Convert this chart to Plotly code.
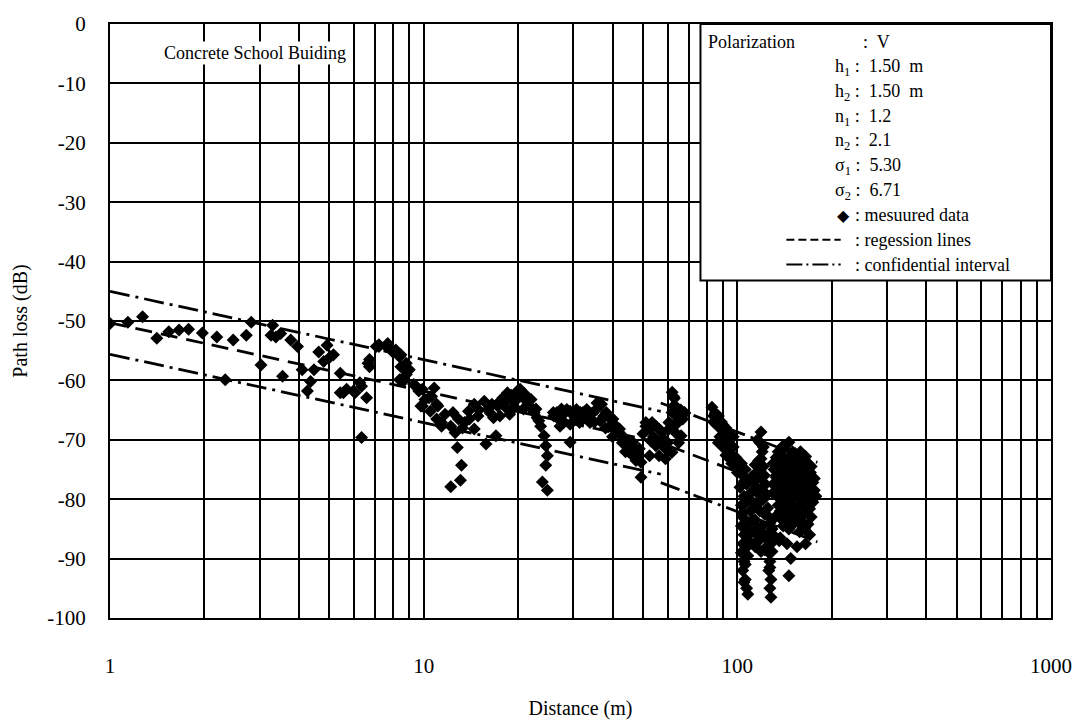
import plotly.graph_objects as go

# ---------------- data ----------------
distance_m = [
    1.0, 1.14, 1.27, 1.41, 1.54, 1.66, 1.78, 1.97, 2.19, 2.33, 2.47, 2.72, 2.82, 3.03, 3.26, 3.3,
    3.38, 3.5, 3.55, 3.77, 3.96, 4.1, 4.26, 4.36, 4.47, 4.63, 4.8, 4.92, 5.04, 5.16, 5.42, 5.42,
    5.55, 5.68, 5.97, 6.04, 6.26, 6.34, 6.34, 6.58, 6.65, 6.72, 6.72, 7.06, 7.2, 7.2, 7.6, 7.68,
    7.78, 7.97, 8.15, 8.38, 8.38, 8.46, 8.46, 8.6, 8.6, 8.8, 8.8, 9.0, 9.3, 9.46, 9.65, 9.8, 9.9, 9.9,
    10.1, 10.4, 10.5, 10.6, 10.8, 11.0, 11.0, 11.1, 11.4, 11.4, 11.7, 12.2, 12.2, 12.4, 12.6, 12.8,
    13.1, 13.2, 13.5, 13.9, 14.5, 14.5, 14.9, 15.6, 15.8, 16.0, 16.7, 17.0, 17.2, 17.9, 18.3, 18.5,
    18.8, 19.2, 19.9, 20.6, 21.3, 21.9, 22.5, 23.0, 23.6, 23.9, 24.2, 24.5, 24.5, 24.8, 24.8,
    19.0, 20.0, 20.3, 21.0, 18.0, 19.5, 20.8, 22.0, 17.5, 16.3,
    14.0, 15.0, 16.5, 17.5, 18.8, 21.5, 22.8, 23.3, 12.9, 13.3,
    25.9, 26.6, 26.9, 27.2, 27.9, 28.6, 29.3, 29.3, 29.3, 30.1, 30.7, 31.4, 31.6, 32.2, 33.1, 33.9,
    33.9, 35.5, 35.7, 36.5, 36.9, 38.2, 39.3, 40.1, 41.1, 42.1, 42.1, 43.2, 44.1, 45.2, 45.2, 46.4,
    46.4, 47.5, 48.7, 48.7, 49.3, 49.3, 51.1, 51.1, 52.5, 52.5, 53.5, 55.0, 55.0, 56.3, 56.3, 57.6,
    57.6, 59.0, 59.0, 60.5, 60.5, 61.9, 61.9, 62.6, 62.6, 64.8, 64.8, 66.2, 66.2, 67.8,
    38.0, 40.0, 44.0,
    26.0, 27.5, 28.0, 30.0, 31.0, 32.8, 34.5, 35.0, 37.5, 39.0, 41.0, 43.0, 45.0, 47.0, 50.0, 54.0,
    58.0, 60.0, 53.0,
    63.0, 64.0, 65.0, 63.5, 66.0, 67.0, 64.0, 65.0, 62.0, 68.0,
    83, 85, 87, 89, 86, 90, 92, 88, 93, 95, 91, 96, 98, 94, 99, 84, 87, 97, 100,
    84, 86, 88, 90, 91, 93, 89, 94, 97, 92, 96, 99,
    103, 104, 102, 105, 103, 104, 103, 105, 104, 103, 105, 104, 106, 107, 108, 109, 110, 108, 107,
    106, 109, 108,
    105, 106, 104, 106, 105, 106, 105,
    119, 118, 120, 117, 121, 115, 119, 123, 113, 116, 121, 112, 118, 125, 114, 120, 127, 111, 123,
    117, 128, 126, 127, 126, 128, 127, 128, 130, 132, 122, 115, 130, 133,
    116, 121, 119, 114, 118, 122, 111, 115, 120, 124, 110, 113, 117, 122, 126, 112, 116, 121, 125,
    110, 114, 119, 124, 129, 127, 129,
    140, 146, 150,
    133, 138, 143, 150, 156, 162, 168,
    131, 136, 141, 147, 153, 159, 165, 171, 176,
    130, 135, 140, 146, 152, 158, 164, 170, 176,
    134, 139, 144, 150, 156, 162, 168, 174,
    137, 143, 148, 155, 160, 166, 172,
    140, 146, 152, 158, 164, 170,
    136, 144, 155, 165,
    148, 146, 137, 128,
    135, 141, 147, 153, 159, 165,
    130, 136, 142, 148, 154, 160, 166, 172,
    133, 138, 144, 150, 156, 162, 168, 174,
    131, 137, 142, 148, 154, 160, 166, 172, 178,
    135, 141, 146, 152, 158, 164, 170,
    139, 145, 150, 156, 162, 168,
]
path_loss_db = [
    -50.4, -50.2, -49.3, -52.9, -51.8, -51.5, -51.4, -52.0, -52.7, -59.9, -53.2, -52.4, -50.2, -57.4, -52.4, -50.7,
    -52.7, -52.1, -59.3, -53.2, -54.3, -58.2, -61.8, -60.2, -58.2, -55.2, -56.8, -54.1, -56.0, -55.7, -62.1, -58.8,
    -62.1, -61.5, -61.8, -62.1, -60.4, -61.0, -69.6, -62.9, -57.1, -57.7, -56.5, -54.3, -54.3, -54.0, -54.3, -53.8,
    -54.3, -55.2, -54.9, -56.0, -59.9, -55.7, -57.7, -57.7, -60.2, -59.0, -57.1, -58.2, -60.7, -61.0, -61.8, -64.3, -64.3, -61.5,
    -63.2, -62.9, -65.2, -62.7, -61.3, -64.0, -66.5, -64.3, -67.7, -67.1, -65.7, -67.7, -77.9, -65.4, -68.8, -71.3,
    -76.8, -74.3, -67.1, -65.2, -64.0, -68.2, -66.0, -63.5, -70.7, -64.9, -66.3, -69.3, -64.3, -62.9, -64.6, -62.1,
    -65.7, -63.5, -61.8, -62.6, -63.5, -64.6, -65.4, -66.3, -67.7, -77.1, -69.3, -71.0, -74.3, -72.7, -78.5,
    -62.5, -63.0, -61.5, -62.3, -63.8, -64.5, -64.8, -63.2, -66.0, -65.5,
    -66.5, -65.0, -64.0, -63.5, -62.8, -64.0, -64.8, -66.8, -66.5, -68.0,
    -65.4, -65.4, -66.5, -67.7, -65.7, -64.9, -65.2, -67.4, -70.4, -66.0, -64.9, -67.1, -65.4, -65.4, -64.9, -65.7,
    -67.1, -64.9, -63.8, -66.8, -64.0, -65.4, -67.7, -66.5, -67.7, -68.8, -68.2, -69.9, -69.9, -71.5, -70.7, -70.4,
    -72.7, -73.5, -71.5, -72.7, -73.8, -76.3, -67.1, -67.7, -68.2, -72.7, -67.1, -67.7, -71.0, -68.2, -72.7, -68.8,
    -70.4, -71.5, -73.2, -67.1, -68.2, -72.1, -65.4, -62.7, -64.3, -65.4, -66.5, -66.5, -69.3, -65.4,
    -68.0, -69.5, -72.0,
    -66.0, -64.8, -67.0, -65.8, -66.2, -66.3, -65.5, -67.0, -66.0, -66.3, -68.5, -70.5, -72.0, -71.5, -69.0, -69.5,
    -69.8, -70.5, -70.2,
    -63.0, -64.5, -66.0, -67.5, -65.0, -66.5, -69.0, -70.5, -62.0, -65.5,
    -64.5, -65.5, -66.0, -67.0, -67.5, -68.5, -68.0, -69.5, -70.0, -71.0, -71.5, -72.5, -73.5, -73.0, -74.5, -67.0, -70.5, -69.5, -75.5,
    -66.0, -66.8, -68.0, -67.5, -69.8, -68.8, -70.6, -71.8, -71.2, -72.6, -74.0, -73.0,
    -74.0, -76.0, -78.0, -79.5, -81.0, -83.0, -84.5, -86.0, -87.5, -89.0, -90.5, -92.0, -93.5, -95.0, -96.0, -84.0, -82.0, -80.0, -77.5,
    -75.0, -87.0, -89.5,
    -77.0, -80.7, -82.3, -85.0, -88.5, -91.0, -94.0,
    -68.7, -70.5, -72.0, -73.5, -74.5, -75.5, -76.5, -77.5, -77.0, -79.0, -80.0, -80.5, -82.0, -81.5, -83.5, -84.5, -84.0, -85.5, -86.5,
    -87.0, -87.5, -89.0, -90.5, -92.0, -93.5, -95.0, -96.5, -86.0, -83.0, -88.5, -86.0, -79.0, -76.0,
    -70.0, -71.2, -73.2, -74.2, -75.2, -76.0, -76.2, -78.0, -78.5, -79.2, -79.0, -81.5, -80.7, -82.5, -83.0, -83.5, -84.8, -85.8, -86.0,
    -87.5, -88.0, -88.8, -88.0, -85.0, -91.5, -88.8,
    -71.0, -70.4, -72.0,
    -73.0, -72.5, -73.5, -74.0, -73.0, -73.5, -74.0,
    -75.0, -75.5, -75.0, -76.0, -75.5, -75.0, -76.0, -75.5, -76.5,
    -77.5, -77.0, -78.0, -77.5, -78.0, -77.0, -78.0, -77.5, -78.5,
    -79.5, -80.0, -79.5, -80.0, -79.5, -80.5, -80.0, -80.5,
    -82.0, -82.5, -81.5, -82.5, -83.0, -82.0, -83.0,
    -84.5, -85.0, -84.0, -85.5, -85.0, -86.0,
    -87.0, -87.5, -88.0, -87.5,
    -90.0, -92.9, -86.5, -87.1,
    -72.0, -71.5, -72.8, -72.3, -72.0, -72.8,
    -74.0, -74.0, -74.2, -74.5, -74.3, -74.4, -74.8, -74.5,
    -76.3, -76.6, -76.8, -76.4, -76.8, -76.5, -76.8, -77.2,
    -78.8, -78.5, -78.9, -79.0, -78.7, -78.9, -79.1, -79.2, -79.5,
    -81.0, -81.2, -80.8, -81.3, -81.0, -81.3, -81.6,
    -83.5, -83.7, -83.2, -83.8, -84.0, -84.2,
]

# regression line (two slopes, break near 57 m) and confidence interval lines
regression_x = [1, 57, 180]
regression_y = [-50.3, -70.5, -80.5]
upper_x = [1, 57, None, 57, 180]
upper_y = [-45.0, -65.2, None, -63.8, -73.8]
lower_x = [1, 57, None, 57, 180]
lower_y = [-55.6, -75.8, None, -77.2, -87.2]

x_tick_vals = [1, 10, 100, 1000]
x_tick_text = ["1", "10", "100", "1000"]
x_minor_vals = [m * d for d in (1, 10, 100) for m in range(2, 10)]
y_tick_vals = list(range(-100, 1, 10))
y_tick_text = [str(v) for v in y_tick_vals]

# legend block text
legend_params = [
    "h<sub>1</sub> :  1.50  m",
    "h<sub>2</sub> :  1.50  m",
    "n<sub>1</sub> :  1.2",
    "n<sub>2</sub> :  2.1",
    "σ<sub>1</sub> :  5.30",
    "σ<sub>2</sub> :  6.71",
]

# ---------------- figure ----------------
W, H = 1084, 728
L, R, T, B = 110, 21, 21, 107
PW, PH = W - L - R, H - T - B


def px(xp):
    return (xp - L) / PW


def py(yp):
    return (H - B - yp) / PH


SERIF = "Liberation Serif"

fig = go.Figure()
fig.add_trace(go.Scatter(
    x=upper_x, y=upper_y, mode="lines", connectgaps=False,
    line=dict(color="black", width=2.8, dash="20px,6px,3px,6px"), hoverinfo="skip"))
fig.add_trace(go.Scatter(
    x=lower_x, y=lower_y, mode="lines", connectgaps=False,
    line=dict(color="black", width=2.8, dash="20px,6px,3px,6px"), hoverinfo="skip"))
fig.add_trace(go.Scatter(
    x=regression_x, y=regression_y, mode="lines",
    line=dict(color="black", width=2.8, dash="17px,9px"), hoverinfo="skip"))
fig.add_trace(go.Scatter(
    x=distance_m, y=path_loss_db, mode="markers",
    marker=dict(symbol="diamond", size=10, color="black", line=dict(width=0))))

fig.update_layout(
    width=W, height=H,
    margin=dict(l=L, r=R, t=T, b=B),
    paper_bgcolor="white", plot_bgcolor="white",
    showlegend=False,
    font=dict(family=SERIF, color="black"),
)

fig.update_xaxes(
    type="log", range=[0, 3],
    tickvals=x_tick_vals, ticktext=x_tick_text,
    tickfont=dict(family=SERIF, size=21, color="black"),
    ticks="", ticklabelstandoff=28,
    showgrid=True, gridcolor="black", gridwidth=2,
    minor=dict(tickvals=x_minor_vals, showgrid=True, gridcolor="black", gridwidth=1.6, ticks=""),
    showline=True, linecolor="black", linewidth=2, mirror=True,
    zeroline=False,
    title=dict(text="Distance (m)", font=dict(family=SERIF, size=20, color="black"), standoff=24),
)
fig.update_yaxes(
    range=[-100, 0], tickvals=y_tick_vals, ticktext=y_tick_text,
    tickfont=dict(family=SERIF, size=21, color="black"),
    ticks="", ticklabelstandoff=18,
    showgrid=True, gridcolor="black", gridwidth=2,
    showline=True, linecolor="black", linewidth=2, mirror=True,
    zeroline=False,
    title=dict(text="Path loss (dB)", font=dict(family=SERIF, size=20, color="black"), standoff=14),
)

shapes = []
# legend box
shapes.append(dict(type="rect", xref="paper", yref="paper",
                   x0=px(708), x1=1.0, y0=py(280), y1=1.0,
                   fillcolor="white", line=dict(color="black", width=2), layer="above"))
# legend line samples
shapes.append(dict(type="line", xref="paper", yref="paper",
                   x0=px(795), x1=px(850), y0=py(239), y1=py(239),
                   line=dict(color="black", width=2, dash="8px,4px"), layer="above"))
shapes.append(dict(type="line", xref="paper", yref="paper",
                   x0=px(795), x1=px(850), y0=py(264), y1=py(264),
                   line=dict(color="black", width=2, dash="16px,4px,2px,4px"), layer="above"))
fig.update_layout(shapes=shapes)

ann = []
ann.append(dict(text="Concrete School Buiding", xref="paper", yref="paper",
                x=px(163), y=py(50), xanchor="left", yanchor="middle", showarrow=False,
                bgcolor="white", font=dict(family=SERIF, size=18, color="black")))
ann.append(dict(text="Polarization", xref="paper", yref="paper",
                x=px(714), y=py(39), xanchor="left", yanchor="middle", showarrow=False,
                font=dict(family=SERIF, size=18, color="black")))
ann.append(dict(text=":  V", xref="paper", yref="paper",
                x=px(871), y=py(39), xanchor="left", yanchor="middle", showarrow=False,
                font=dict(family=SERIF, size=18, color="black")))
for i, t in enumerate(legend_params):
    ann.append(dict(text=t, xref="paper", yref="paper",
                    x=px(842), y=py(65 + 25 * i), xanchor="left", yanchor="middle", showarrow=False,
                    font=dict(family=SERIF, size=18, color="black")))
ann.append(dict(text="◆", xref="paper", yref="paper",
                x=px(853), y=py(214), xanchor="center", yanchor="middle", showarrow=False,
                font=dict(family="DejaVu Sans", size=16, color="black")))
for t, yy in ((": mesuured data", 214), (": regession lines", 239), (": confidential interval", 264)):
    ann.append(dict(text=t, xref="paper", yref="paper",
                    x=px(862), y=py(yy), xanchor="left", yanchor="middle", showarrow=False,
                    font=dict(family=SERIF, size=18, color="black")))
fig.update_layout(annotations=ann)

fig.write_html("out.html")
